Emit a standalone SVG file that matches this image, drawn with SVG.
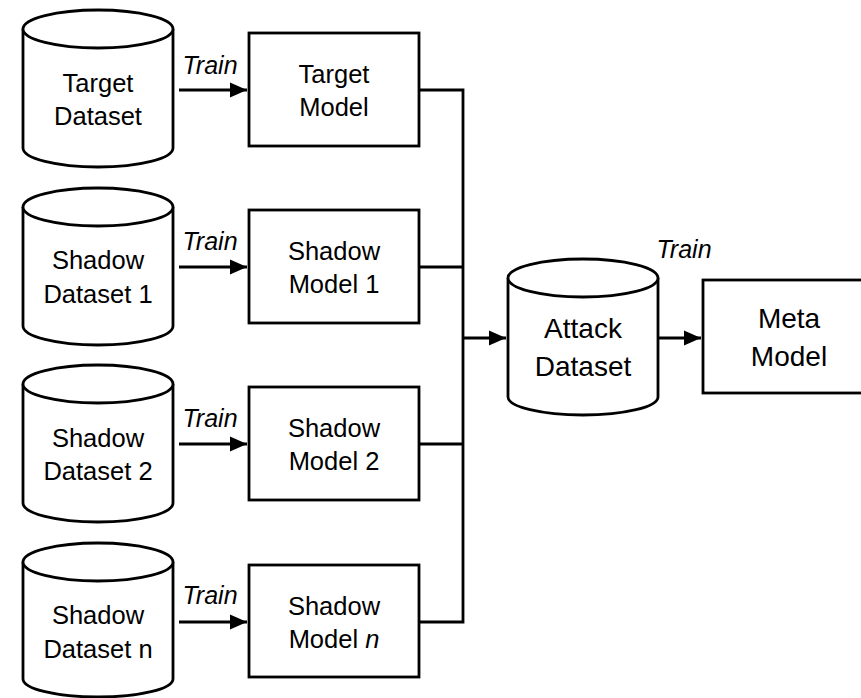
<svg xmlns="http://www.w3.org/2000/svg" width="861" height="698" viewBox="0 0 861 698">
<defs>
<style>
.shape{fill:#fff;stroke:#000;stroke-width:2.8}
.line{fill:none;stroke:#000;stroke-width:2.8}
.t{font-family:"Liberation Sans",Arial,sans-serif;font-size:25.5px;fill:#000;text-anchor:middle}
.big{font-size:28px}
.tr{font-family:"Liberation Sans",Arial,sans-serif;font-size:25px;font-style:italic;fill:#000;text-anchor:middle}
</style>
<marker id="ah" markerUnits="userSpaceOnUse" markerWidth="18" markerHeight="16" refX="17" refY="8" orient="auto">
<path d="M0,0.5 L17,8 L0,15.5 Z" fill="#000"/>
</marker>
</defs>
<rect width="861" height="698" fill="#fff"/>

<g id="connectors">
<path class="line" d="M179,90 H247" marker-end="url(#ah)"/>
<path class="line" d="M179,267 H247" marker-end="url(#ah)"/>
<path class="line" d="M179,444 H247" marker-end="url(#ah)"/>
<path class="line" d="M179,622 H247" marker-end="url(#ah)"/>
<path class="line" d="M419,90 H463 V622 H419"/>
<path class="line" d="M419,267 H463"/>
<path class="line" d="M419,444 H463"/>
<path class="line" d="M463,338 H506" marker-end="url(#ah)"/>
<path class="line" d="M658,338 H701" marker-end="url(#ah)"/>
<text class="tr" x="210" y="74">Train</text>
<text class="tr" x="210" y="250">Train</text>
<text class="tr" x="210" y="427">Train</text>
<text class="tr" x="210" y="604">Train</text>
<text class="tr" x="684" y="258">Train</text>
</g>

<g id="target-dataset">
<path class="shape" d="M23,29 V148 A75,19 0 0 0 173,148 V29"/>
<ellipse class="shape" cx="98" cy="29" rx="75" ry="19"/>
<text class="t" x="98" y="92">Target</text>
<text class="t" x="98" y="125">Dataset</text>
</g>

<g id="shadow-dataset-1">
<path class="shape" d="M23,207 V326 A75,19 0 0 0 173,326 V207"/>
<ellipse class="shape" cx="98" cy="207" rx="75" ry="19"/>
<text class="t" x="98" y="269">Shadow</text>
<text class="t" x="98" y="303">Dataset 1</text>
</g>

<g id="shadow-dataset-2">
<path class="shape" d="M23,384 V503 A75,19 0 0 0 173,503 V384"/>
<ellipse class="shape" cx="98" cy="384" rx="75" ry="19"/>
<text class="t" x="98" y="447">Shadow</text>
<text class="t" x="98" y="480">Dataset 2</text>
</g>

<g id="shadow-dataset-n">
<path class="shape" d="M23,562 V679 A75,18 0 0 0 173,679 V562"/>
<ellipse class="shape" cx="98" cy="562" rx="75" ry="19"/>
<text class="t" x="98" y="624">Shadow</text>
<text class="t" x="98" y="658">Dataset n</text>
</g>

<g id="target-model">
<rect class="shape" x="249" y="33" width="170" height="113"/>
<text class="t" x="334" y="83">Target</text>
<text class="t" x="334" y="116">Model</text>
</g>

<g id="shadow-model-1">
<rect class="shape" x="249" y="210" width="170" height="113"/>
<text class="t" x="334" y="260">Shadow</text>
<text class="t" x="334" y="293">Model 1</text>
</g>

<g id="shadow-model-2">
<rect class="shape" x="249" y="387" width="170" height="113"/>
<text class="t" x="334" y="437">Shadow</text>
<text class="t" x="334" y="470">Model 2</text>
</g>

<g id="shadow-model-n">
<rect class="shape" x="249" y="565" width="170" height="112"/>
<text class="t" x="334" y="615">Shadow</text>
<text class="t" x="334" y="648">Model <tspan font-style="italic">n</tspan></text>
</g>

<g id="attack-dataset">
<path class="shape" d="M508,278 V397 A75,18 0 0 0 658,397 V278"/>
<ellipse class="shape" cx="583" cy="278" rx="75" ry="19"/>
<text class="t big" x="583" y="338">Attack</text>
<text class="t big" x="583" y="376">Dataset</text>
</g>

<g id="meta-model">
<rect class="shape" x="703" y="280" width="170" height="113"/>
<text class="t big" x="789" y="328">Meta</text>
<text class="t big" x="789" y="366">Model</text>
</g>
</svg>
